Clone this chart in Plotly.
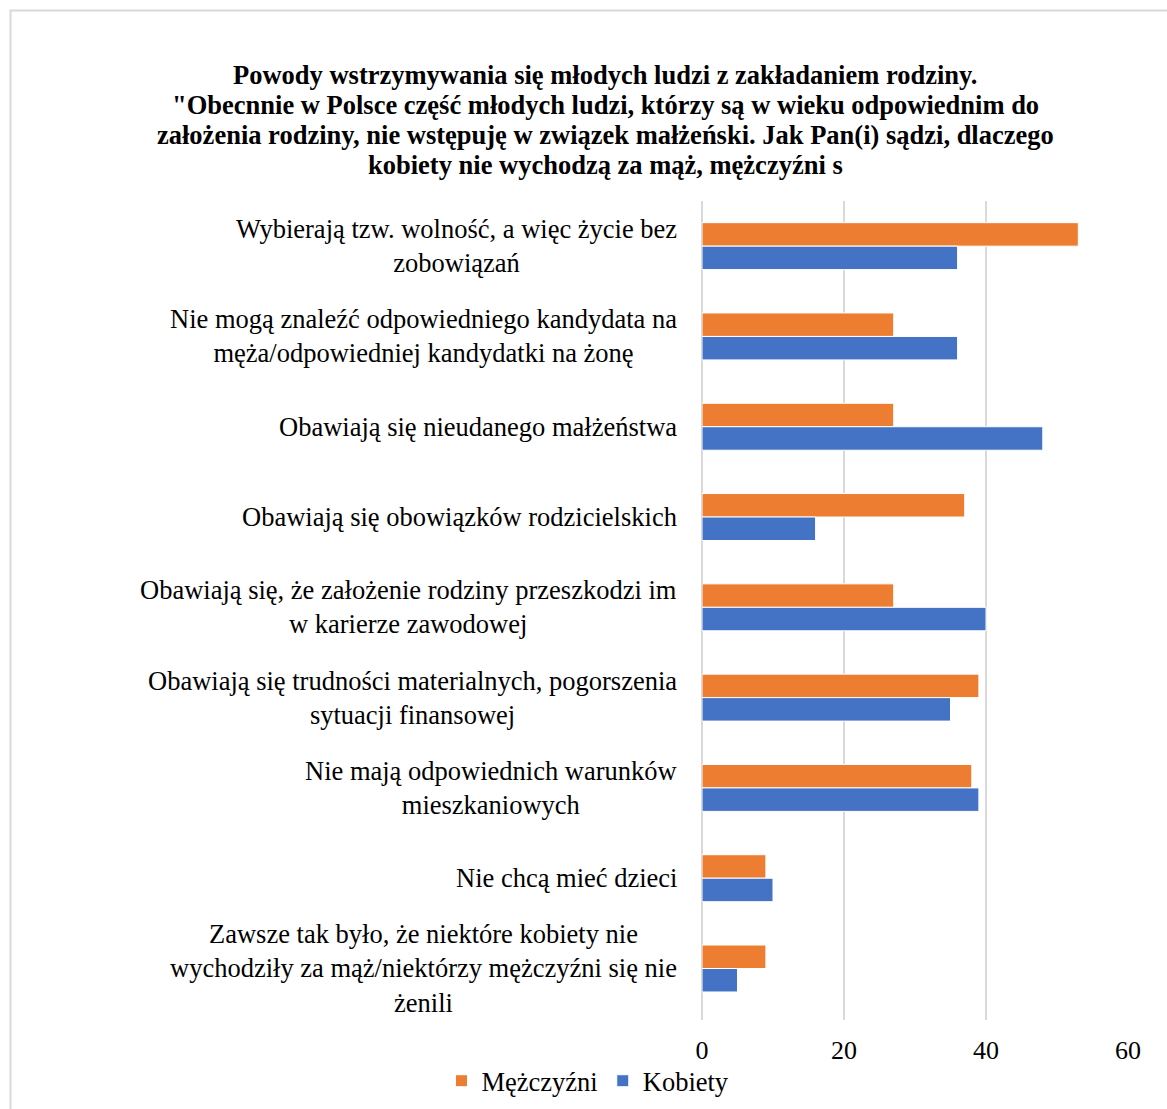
import plotly.graph_objects as go

# Survey answers (percent), listed top to bottom
categories = [
    "Wybierają tzw. wolność, a więc życie bez<br>zobowiązań",
    "Nie mogą znaleźć odpowiedniego kandydata na<br>męża/odpowiedniej kandydatki na żonę",
    "Obawiają się nieudanego małżeństwa",
    "Obawiają się obowiązków rodzicielskich",
    "Obawiają się, że założenie rodziny przeszkodzi im<br>w karierze zawodowej",
    "Obawiają się trudności materialnych, pogorszenia<br>sytuacji finansowej",
    "Nie mają odpowiednich warunków<br>mieszkaniowych",
    "Nie chcą mieć dzieci",
    "Zawsze tak było, że niektóre kobiety nie<br>wychodziły za mąż/niektórzy mężczyźni się nie<br>żenili",
]
men = [53, 27, 27, 37, 27, 39, 38, 9, 9]
women = [36, 36, 48, 16, 40, 35, 39, 10, 5]
x_ticks = [0, 20, 40, 60]

title_lines = [
    "Powody wstrzymywania się młodych ludzi z zakładaniem rodziny.",
    "\"Obecnnie w Polsce część młodych ludzi, którzy są w wieku odpowiednim do",
    "założenia rodziny, nie wstępuję w związek małżeński. Jak Pan(i) sądzi, dlaczego",
    "kobiety nie wychodzą za mąż, mężczyźni s",
]

SERIF = "Liberation Serif"
TXT = 26.5
W, H = 1167, 1109
L, R, T, B = 702, 39, 201, 89
pw, ph = W - L - R, H - T - B


def px_x(p):
    return (p - L) / pw


def px_y(p):
    return (H - B - p) / ph


fig = go.Figure()
fig.add_trace(go.Bar(
    y=categories, x=men, name="Mężczyźni", orientation="h",
    marker=dict(color="#ED7D31", line=dict(color="#FFFFFF", width=1)),
))
fig.add_trace(go.Bar(
    y=categories, x=women, name="Kobiety", orientation="h",
    marker=dict(color="#4472C4", line=dict(color="#FFFFFF", width=1)),
))

# Category labels: right-aligned block, centred lines
annotations = []
for cat in categories:
    annotations.append(dict(
        x=px_x(679), xref="paper", y=cat, yref="y",
        text=cat, showarrow=False, xanchor="right", yanchor="middle",
        align="center", font=dict(family=SERIF, size=TXT, color="#000000"),
    ))

# Title, one line per annotation for tight line spacing
for i, line in enumerate(title_lines):
    annotations.append(dict(
        x=px_x(605), xref="paper", y=px_y(75 + 30 * i), yref="paper",
        text="<b>" + line + "</b>", showarrow=False,
        xanchor="center", yanchor="middle", align="center",
        font=dict(family=SERIF, size=TXT, color="#000000"),
    ))

# Outer chart frame
shapes = [dict(
    type="rect", xref="paper", yref="paper",
    x0=px_x(10.5), x1=px_x(1180), y0=px_y(1120), y1=px_y(10.5),
    line=dict(color="#D9D9D9", width=2), fillcolor="rgba(0,0,0,0)", layer="below",
)]

fig.update_layout(
    width=W, height=H,
    margin=dict(l=L, r=R, t=T, b=B, pad=0, autoexpand=False),
    paper_bgcolor="#FFFFFF", plot_bgcolor="#FFFFFF",
    font=dict(family=SERIF, color="#000000"),
    barmode="group", bargap=0.48, bargroupgap=0,
    showlegend=True,
    legend=dict(
        orientation="h", x=px_x(588), xanchor="center",
        y=px_y(1081), yanchor="middle",
        bgcolor="rgba(0,0,0,0)",
        font=dict(family=SERIF, size=TXT, color="#000000"),
        itemwidth=30, traceorder="normal",
    ),
    annotations=annotations,
    shapes=shapes,
    xaxis=dict(
        range=[0, 60], tickvals=x_ticks, showgrid=True,
        gridcolor="#D9D9D9", gridwidth=2,
        zeroline=True, zerolinecolor="#D9D9D9", zerolinewidth=2,
        showline=False, ticks="", ticklen=0, ticklabelstandoff=12,
        tickfont=dict(family=SERIF, size=26, color="#000000"),
        fixedrange=True, automargin=False,
    ),
    yaxis=dict(
        autorange="reversed", showticklabels=False, showgrid=False,
        zeroline=False, showline=False, ticks="", automargin=False,
    ),
)

fig.write_html("out.html")
